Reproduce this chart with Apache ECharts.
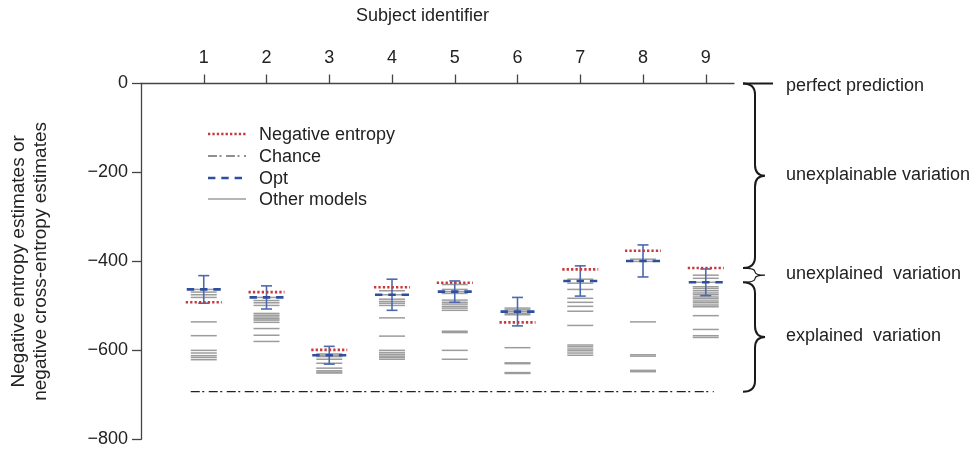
<!DOCTYPE html>
<html>
<head>
<meta charset="utf-8">
<script src="https://cdn.jsdelivr.net/npm/echarts@6/dist/echarts.min.js"></script>
<style>html,body{margin:0;padding:0;background:#fff}#c{width:974px;height:453px}</style>
</head>
<body>
<div id="c"></div>
<script>
// ---- data ----
const subjects = [1, 2, 3, 4, 5, 6, 7, 8, 9];
const negEntropy = [-492, -469, -599, -458, -448, -537, -418, -376, -415];
const optMean = [-463, -481, -611, -475, -468, -513, -444, -399, -447];
const optErr = [31, 26, 20, 35, 24, 32, 34, 36, 30];
const chance = [-693, -693, -693, -693, -693, -693, -693, -693, -693];
const otherModels = [
  [-463, -469, -475, -481, -536, -567, -600, -606, -612, -616, -621],
  [-481, -488, -493, -499, -517, -521, -525, -529, -532, -537, -551, -566, -580],
  [-608, -611, -614, -620, -629, -640, -646, -649, -651],
  [-466, -475, -485, -490, -494, -499, -527, -568, -600, -605, -609, -613, -616, -620],
  [-452, -463, -468, -472, -487, -492, -496, -501, -505, -510, -557, -560, -600, -620],
  [-505, -509, -513, -517, -520, -594, -628, -630, -650, -652],
  [-440, -449, -463, -483, -492, -501, -512, -544, -588, -592, -597, -601, -606, -611],
  [-395, -400, -536, -610, -613, -645, -648],
  [-431, -438, -447, -457, -461, -466, -471, -475, -480, -484, -489, -493, -498, -502, -522, -553, -567, -571]
];
const yTicks = [0, -200, -400, -600, -800];
const braceLabels = ['perfect prediction', 'unexplainable variation', 'unexplained  variation', 'explained  variation'];
const legendNames = ['Negative entropy', 'Chance', 'Opt', 'Other models'];

// ---- styles ----
const FONT = 'Liberation Sans, Arial, Helvetica, sans-serif';
const TXT = '#222';
const RED = '#c9393c';
const BLUE = '#2e4fa0';
const BLUE2 = '#4d69b0';
const GRAY = '#9c9c9c';

const otherData = [];
otherModels.forEach((arr, i) => arr.forEach(v => otherData.push([subjects[i], v])));
const negData = subjects.map((s, i) => [s, negEntropy[i]]);
const optData = subjects.map((s, i) => [s, optMean[i]]);
const errData = subjects.map((s, i) => [s, optMean[i] - optErr[i], optMean[i] + optErr[i]]);
const chanceData = subjects.map((s, i) => [s, chance[i]]);
const last = subjects.length - 1;
const braceData = [
  [subjects[last], 0, negEntropy[last]],
  [subjects[last], negEntropy[last], optMean[last]],
  [subjects[last], optMean[last], chance[last]]
];

function hSeg(hw, style) {
  return function (params, api) {
    const p = api.coord([api.value(0), api.value(1)]);
    return { type: 'line', shape: { x1: p[0] - hw, y1: p[1], x2: p[0] + hw, y2: p[1] }, style: style };
  };
}

const chart = echarts.init(document.getElementById('c'), null, { renderer: 'canvas' });
const option = {
  animation: false,
  backgroundColor: '#fff',
  grid: { left: 141, right: 240, top: 83.5, bottom: 13.7, containLabel: false },
  xAxis: {
    type: 'value', position: 'top', min: 0, max: 9.45, interval: 1,
    name: 'Subject identifier', nameLocation: 'middle', nameGap: 58,
    nameTextStyle: { fontSize: 18, color: TXT, fontFamily: FONT, padding: [0, 30, 0, 0] },
    axisLine: { show: true, onZero: false, lineStyle: { color: '#444', width: 1.3 } },
    axisTick: { show: true, length: 9, customValues: subjects, lineStyle: { color: '#444', width: 1.3 } },
    axisLabel: { show: true, customValues: subjects, margin: 16, fontSize: 18, color: TXT, fontFamily: FONT },
    splitLine: { show: false }
  },
  yAxis: {
    type: 'value', min: -800, max: 0, interval: 200,
    name: 'Negative entropy estimates or\nnegative cross-entropy estimates',
    nameLocation: 'middle', nameGap: 89,
    nameTextStyle: { fontSize: 19, color: TXT, fontFamily: FONT, lineHeight: 22 },
    axisLine: { show: true, onZero: false, lineStyle: { color: '#444', width: 1.3 } },
    axisTick: { show: true, length: 9, lineStyle: { color: '#444', width: 1.3 } },
    axisLabel: {
      margin: 13, fontSize: 18, color: TXT, fontFamily: FONT,
      formatter: v => (v < 0 ? '\u2212' + (-v) : String(v))
    },
    splitLine: { show: false }
  },
  series: [
    {
      name: 'Other models', type: 'custom', data: otherData, encode: { x: 0, y: 1 }, clip: false, z: 2,
      renderItem: hSeg(13, { stroke: GRAY, lineWidth: 1.5 })
    },
    {
      name: 'Chance', type: 'custom', data: chanceData, encode: { x: 0, y: 1 }, clip: false, z: 2,
      renderItem: function (params, api) {
        if (params.dataIndex !== 0) return null;
        const pts = chanceData.map(d => api.coord(d));
        pts[0] = [pts[0][0] - 13, pts[0][1]];
        pts[pts.length - 1] = [pts[pts.length - 1][0] + 8, pts[pts.length - 1][1]];
        return { type: 'polyline', shape: { points: pts }, style: { stroke: '#222', lineWidth: 1.2, lineDash: [9, 2.5, 2, 4.5], fill: null } };
      }
    },
    {
      name: 'Opt error', type: 'custom', data: errData, encode: { x: 0, y: [1, 2] }, clip: false, z: 3,
      renderItem: function (params, api) {
        const lo = api.coord([api.value(0), api.value(1)]);
        const hi = api.coord([api.value(0), api.value(2)]);
        const st = { stroke: BLUE2, lineWidth: 1.6 };
        return {
          type: 'group', children: [
            { type: 'line', shape: { x1: lo[0], y1: lo[1], x2: hi[0], y2: hi[1] }, style: st },
            { type: 'line', shape: { x1: lo[0] - 5.5, y1: lo[1], x2: lo[0] + 5.5, y2: lo[1] }, style: st },
            { type: 'line', shape: { x1: hi[0] - 5.5, y1: hi[1], x2: hi[0] + 5.5, y2: hi[1] }, style: st }
          ]
        };
      }
    },
    {
      name: 'Opt', type: 'custom', data: optData, encode: { x: 0, y: 1 }, clip: false, z: 4,
      renderItem: hSeg(17, { stroke: BLUE, lineWidth: 2.6, lineDash: [7.4, 5.9] })
    },
    {
      name: 'Negative entropy', type: 'custom', data: negData, encode: { x: 0, y: 1 }, clip: false, z: 5,
      renderItem: hSeg(18, { stroke: RED, lineWidth: 2.6, lineDash: [2.3, 2.1] })
    },
    {
      name: 'Braces', type: 'custom', data: braceData, encode: { x: 0, y: [1, 2] }, clip: false, z: 6,
      renderItem: function (params, api) {
        const cs = params.coordSys;
        const x0 = cs.x + cs.width;
        const y1 = api.coord([api.value(0), api.value(1)])[1];
        const y2 = api.coord([api.value(0), api.value(2)])[1];
        const xe = x0 + 9, xs = x0 + 21, xt = x0 + 31;
        const ym = (y1 + y2) / 2;
        const r = Math.min(11, (y2 - y1) / 4);
        const path = 'M' + xe + ' ' + y1 + ' Q' + xs + ' ' + y1 + ' ' + xs + ' ' + (y1 + r) +
          ' L' + xs + ' ' + (ym - r) + ' Q' + xs + ' ' + ym + ' ' + xt + ' ' + ym +
          ' Q' + xs + ' ' + ym + ' ' + xs + ' ' + (ym + r) +
          ' L' + xs + ' ' + (y2 - r) + ' Q' + xs + ' ' + y2 + ' ' + xe + ' ' + y2;
        const children = [
          { type: 'path', shape: { pathData: path }, style: { stroke: '#1a1a1a', lineWidth: params.dataIndex === 1 ? 1.2 : 2, fill: null } },
          { type: 'text', style: { text: braceLabels[params.dataIndex + 1], x: x0 + 52, y: ym - 1, verticalAlign: 'middle', align: 'left', fill: TXT, font: '18px ' + FONT } }
        ];
        if (params.dataIndex === 0) {
          children.push({ type: 'line', shape: { x1: xe, y1: y1, x2: x0 + 39, y2: y1 }, style: { stroke: '#1a1a1a', lineWidth: 2 } });
          children.push({ type: 'text', style: { text: braceLabels[0], x: x0 + 52, y: y1 + 2.5, verticalAlign: 'middle', align: 'left', fill: TXT, font: '18px ' + FONT } });
        }
        return { type: 'group', children: children };
      }
    }
  ],
  graphic: [
    { type: 'line', shape: { x1: 208, y1: 134, x2: 246, y2: 134 }, style: { stroke: RED, lineWidth: 2.4, lineDash: [2.3, 2.1] } },
    { type: 'line', shape: { x1: 208, y1: 156, x2: 246, y2: 156 }, style: { stroke: '#222', lineWidth: 1.2, lineDash: [9, 2.5, 2, 4.5] } },
    { type: 'line', shape: { x1: 208, y1: 178, x2: 246, y2: 178 }, style: { stroke: BLUE, lineWidth: 2.6, lineDash: [7.4, 5.9] } },
    { type: 'line', shape: { x1: 208, y1: 199, x2: 246, y2: 199 }, style: { stroke: GRAY, lineWidth: 1.5 } },
    { type: 'text', style: { text: legendNames[0], x: 259, y: 135, verticalAlign: 'middle', fill: TXT, font: '18px ' + FONT } },
    { type: 'text', style: { text: legendNames[1], x: 259, y: 157.5, verticalAlign: 'middle', fill: TXT, font: '18px ' + FONT } },
    { type: 'text', style: { text: legendNames[2], x: 259, y: 179.5, verticalAlign: 'middle', fill: TXT, font: '18px ' + FONT } },
    { type: 'text', style: { text: legendNames[3], x: 259, y: 200.5, verticalAlign: 'middle', fill: TXT, font: '18px ' + FONT } }
  ]
};
chart.setOption(option);
</script>
</body>
</html>
